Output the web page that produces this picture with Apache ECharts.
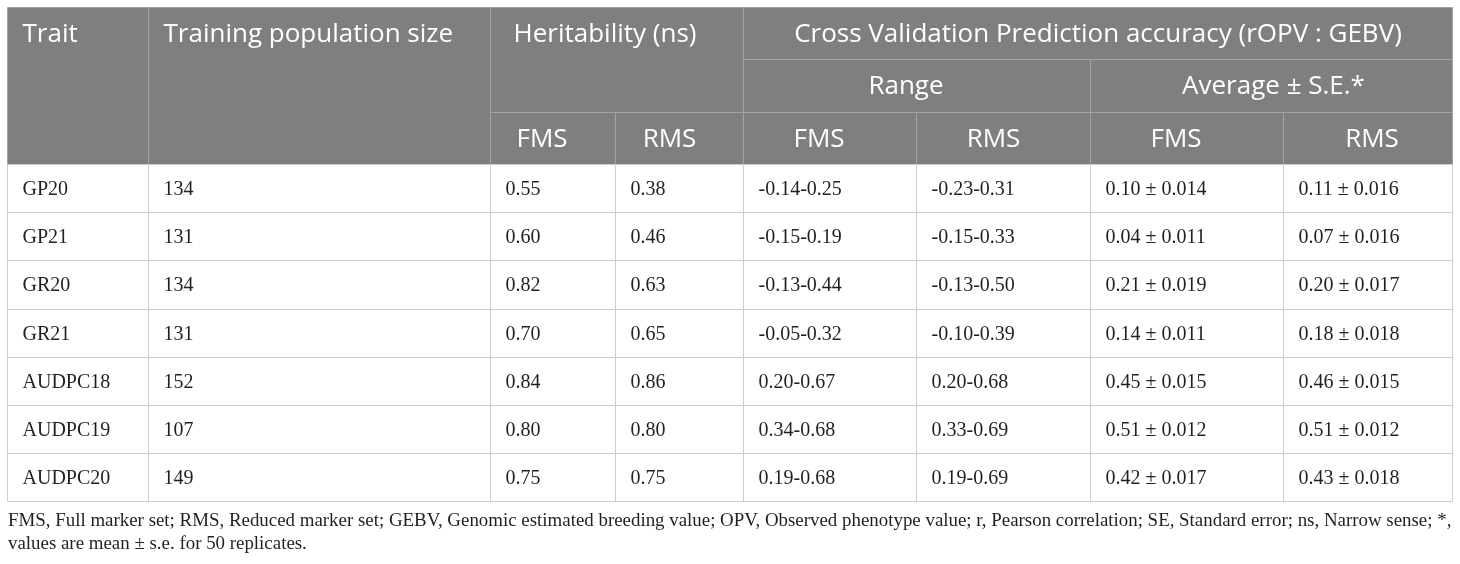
<!DOCTYPE html>
<html>
<head>
<meta charset="utf-8">
<title>Training population, heritability and prediction accuracy</title>
<script src="https://cdn.jsdelivr.net/npm/echarts@6/dist/echarts.min.js"></script>
<style>
  html, body { margin: 0; padding: 0; background: #fff; }
  #main { width: 1460px; height: 564px; }
</style>
</head>
<body>
<div id="main"></div>
<script>
// table values
var traits = ['GP20', 'GP21', 'GR20', 'GR21', 'AUDPC18', 'AUDPC19', 'AUDPC20'];
var popSize = [134, 131, 134, 131, 152, 107, 149];
var herFMS = [0.55, 0.60, 0.82, 0.70, 0.84, 0.80, 0.75];
var herRMS = [0.38, 0.46, 0.63, 0.65, 0.86, 0.80, 0.75];
var rangeFMS = [[-0.14, 0.25], [-0.15, 0.19], [-0.13, 0.44], [-0.05, 0.32], [0.20, 0.67], [0.34, 0.68], [0.19, 0.68]];
var rangeRMS = [[-0.23, 0.31], [-0.15, 0.33], [-0.13, 0.50], [-0.10, 0.39], [0.20, 0.68], [0.33, 0.69], [0.19, 0.69]];
var avgFMS = [0.10, 0.04, 0.21, 0.14, 0.45, 0.51, 0.42];
var seFMS = [0.014, 0.011, 0.019, 0.011, 0.015, 0.012, 0.017];
var avgRMS = [0.11, 0.07, 0.20, 0.18, 0.46, 0.51, 0.43];
var seRMS = [0.016, 0.016, 0.017, 0.018, 0.015, 0.012, 0.018];

var footnote = [
  'FMS, Full marker set; RMS, Reduced marker set; GEBV, Genomic estimated breeding value; OPV, Observed phenotype value; r, Pearson correlation; SE, Standard error; ns, Narrow sense; *,',
  'values are mean \u00b1 s.e. for 50 replicates.'
];

// layout (pixel units on hidden axes)
var colEdges = [7.5, 148.5, 490.5, 615.5, 743.5, 916.5, 1090.5, 1283.5, 1452.5];
var headEdges = [7.5, 59.5, 112.5, 164.5];
var rowH = 48.2;

// header cells: c0..c1 columns, r0..r1 header bands, lr = band used for text, dx = nudge
var headCells = [
  { c0: 0, c1: 1, r0: 0, r1: 3, lr: 0, text: 'Trait', align: 'left', dx: 0 },
  { c0: 1, c1: 2, r0: 0, r1: 3, lr: 0, text: 'Training population size', align: 'left', dx: 0 },
  { c0: 2, c1: 4, r0: 0, r1: 2, lr: 0, text: 'Heritability (ns)', align: 'center', dx: -12 },
  { c0: 4, c1: 8, r0: 0, r1: 1, lr: 0, text: 'Cross Validation Prediction accuracy (rOPV : GEBV)', align: 'center', dx: 0 },
  { c0: 4, c1: 6, r0: 1, r1: 2, lr: 1, text: 'Range', align: 'center', dx: -11 },
  { c0: 6, c1: 8, r0: 1, r1: 2, lr: 1, text: 'Average \u00b1 S.E.*', align: 'center', dx: 2 },
  { c0: 2, c1: 3, r0: 2, r1: 3, lr: 2, text: 'FMS', align: 'center', dx: -11 },
  { c0: 3, c1: 4, r0: 2, r1: 3, lr: 2, text: 'RMS', align: 'center', dx: -10 },
  { c0: 4, c1: 5, r0: 2, r1: 3, lr: 2, text: 'FMS', align: 'center', dx: -11 },
  { c0: 5, c1: 6, r0: 2, r1: 3, lr: 2, text: 'RMS', align: 'center', dx: -10 },
  { c0: 6, c1: 7, r0: 2, r1: 3, lr: 2, text: 'FMS', align: 'center', dx: -11 },
  { c0: 7, c1: 8, r0: 2, r1: 3, lr: 2, text: 'RMS', align: 'center', dx: 4 }
];

function fmtRange(r) { return r[0].toFixed(2) + '-' + r[1].toFixed(2); }
function fmtAvg(a, s) { return a.toFixed(2) + ' \u00b1 ' + s.toFixed(3); }

var cells = [];
headCells.forEach(function (h) {
  cells.push({
    x0: colEdges[h.c0], x1: colEdges[h.c1],
    y0: headEdges[h.r0], y1: headEdges[h.r1],
    ty: (headEdges[h.lr] + headEdges[h.lr + 1]) / 2 + 1,
    text: h.text, align: h.align, dx: h.dx, head: true
  });
});
traits.forEach(function (t, i) {
  var row = [t, String(popSize[i]), herFMS[i].toFixed(2), herRMS[i].toFixed(2),
    fmtRange(rangeFMS[i]), fmtRange(rangeRMS[i]),
    fmtAvg(avgFMS[i], seFMS[i]), fmtAvg(avgRMS[i], seRMS[i])];
  var y0 = Math.round(headEdges[3] + i * rowH - 0.5) + 0.5;
  var y1 = Math.round(headEdges[3] + (i + 1) * rowH - 0.5) + 0.5;
  row.forEach(function (txt, c) {
    cells.push({
      x0: colEdges[c], x1: colEdges[c + 1], y0: y0, y1: y1,
      ty: (y0 + y1) / 2 + 1, text: txt, align: 'left', dx: 0, head: false
    });
  });
});

function renderCell(params, api) {
  var cell = cells[params.dataIndex];
  var p0 = api.coord([cell.x0, cell.y0]);
  var p1 = api.coord([cell.x1, cell.y1]);
  var ty = api.coord([cell.x0, cell.ty])[1];
  var tx = (cell.align === 'left' ? p0[0] + 15 : (p0[0] + p1[0]) / 2) + cell.dx;
  return {
    type: 'group',
    children: [{
      type: 'rect',
      shape: { x: p0[0], y: p0[1], width: p1[0] - p0[0], height: p1[1] - p0[1] },
      style: {
        fill: cell.head ? '#7f7f7f' : '#ffffff',
        stroke: cell.head ? '#a3a3a3' : '#cccccc',
        lineWidth: 1
      }
    }, {
      type: 'text',
      z2: 10,
      style: {
        x: tx, y: ty,
        text: cell.text,
        align: cell.align,
        verticalAlign: 'middle',
        fill: cell.head ? '#ffffff' : '#231f20',
        font: cell.head ? '26px "Open Sans", "Noto Sans", sans-serif'
                        : '20px "Liberation Serif", "DejaVu Serif", serif'
      }
    }]
  };
}

var myChart = echarts.init(document.getElementById('main'));

myChart.setOption({
  animation: false,
  backgroundColor: '#ffffff',
  grid: { left: 0, right: 0, top: 0, bottom: 0 },
  xAxis: { type: 'value', min: 0, max: 1460, show: false },
  yAxis: { type: 'value', min: 0, max: 564, inverse: true, show: false },
  graphic: footnote.map(function (line, i) {
    return {
      type: 'text',
      left: 8,
      top: 512 + i * 23,
      style: {
        text: line,
        fill: '#231f20',
        font: '18.9px "Liberation Serif", "DejaVu Serif", serif'
      }
    };
  }),
  series: [{
    type: 'custom',
    silent: true,
    clip: false,
    renderItem: renderCell,
    data: cells.map(function (c) { return [(c.x0 + c.x1) / 2, (c.y0 + c.y1) / 2]; })
  }]
});
</script>
</body>
</html>
